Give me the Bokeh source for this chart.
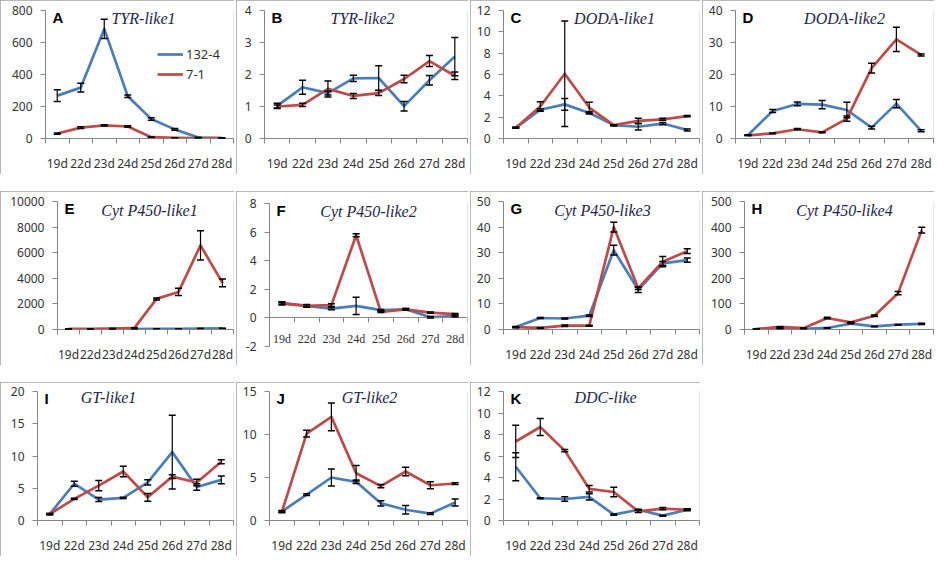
from bokeh.plotting import figure
from bokeh.models import (Range1d, FixedTicker, NumeralTickFormatter, Whisker, TeeHead,
                          ColumnDataSource, Label, LabelSet, Legend, LegendItem, Spacer)
from bokeh.layouts import row, column
from bokeh.embed import file_html
from bokeh.resources import INLINE

# ---------------- data ----------------
days = ["19d", "22d", "23d", "24d", "25d", "26d", "27d", "28d"]
series_names = ["132-4", "7-1"]

tyr1_s1 = [268, 318, 685, 264, 122, 57, 6, 2]
tyr1_s1_err = [36, 28, 60, 8, 8, 6, 2, 1]
tyr1_s2 = [31, 68, 82, 75, 8, 4, 3, 2]
tyr1_s2_err = [4, 5, 4, 5, 2, 1, 1, 1]

tyr2_s1 = [1.02, 1.6, 1.42, 1.88, 1.89, 1.01, 1.82, 2.56]
tyr2_s1_err = [0.08, 0.22, 0.06, 0.1, 0.38, 0.15, 0.15, 0.6]
tyr2_s2 = [1.0, 1.05, 1.55, 1.33, 1.42, 1.86, 2.42, 1.96]
tyr2_s2_err = [0.05, 0.05, 0.25, 0.08, 0.08, 0.12, 0.17, 0.12]

doda1_s1 = [1.0, 2.7, 3.2, 2.4, 1.25, 1.1, 1.4, 0.8]
doda1_s1_err = [0.05, 0.1, 0.55, 0.1, 0.05, 0.3, 0.1, 0.1]
doda1_s2 = [1.0, 3.0, 6.07, 2.9, 1.25, 1.65, 1.8, 2.1]
doda1_s2_err = [0.05, 0.45, 4.95, 0.5, 0.05, 0.25, 0.1, 0.05]

doda2_s1 = [1.0, 8.6, 10.8, 10.6, 8.9, 3.4, 10.9, 2.4]
doda2_s1_err = [0.1, 0.5, 0.6, 1.3, 2.4, 0.4, 1.3, 0.3]
doda2_s2 = [1.0, 1.6, 2.9, 1.9, 6.2, 22.0, 31.0, 26.1]
doda2_s2_err = [0.1, 0.1, 0.2, 0.1, 0.8, 1.5, 3.8, 0.3]

cyp1_s1 = [15, 20, 25, 40, 50, 60, 80, 90]
cyp1_s1_err = [5, 5, 5, 5, 5, 5, 5, 5]
cyp1_s2 = [50, 55, 80, 130, 2390, 2935, 6570, 3640]
cyp1_s2_err = [5, 5, 5, 10, 80, 280, 1150, 300]

cyp2_s1 = [1.05, 0.84, 0.65, 0.84, 0.54, 0.6, 0.05, 0.12]
cyp2_s1_err = [0.08, 0.08, 0.08, 0.6, 0.05, 0.05, 0.05, 0.05]
cyp2_s2 = [1.0, 0.84, 0.89, 5.78, 0.42, 0.6, 0.37, 0.26]
cyp2_s2_err = [0.1, 0.1, 0.1, 0.1, 0.05, 0.05, 0.05, 0.05]

cyp3_s1 = [1.0, 4.5, 4.3, 5.4, 31.0, 15.5, 25.8, 27.1]
cyp3_s1_err = [0.2, 0.2, 0.2, 0.3, 1.9, 1.0, 0.8, 0.8]
cyp3_s2 = [0.9, 0.6, 1.5, 1.5, 40.0, 16.1, 26.5, 30.6]
cyp3_s2_err = [0.2, 0.2, 0.3, 0.2, 1.9, 0.5, 2.0, 0.9]

cyp4_s1 = [2, 3, 3, 6, 23, 12, 19, 22]
cyp4_s1_err = [1, 1, 1, 1, 1, 1, 1, 2]
cyp4_s2 = [2, 10, 5, 45, 28, 54, 142, 388]
cyp4_s2_err = [1, 1, 1, 3, 1, 3, 6, 11]

gt1_s1 = [1.0, 5.7, 3.25, 3.5, 5.9, 10.6, 5.2, 6.3]
gt1_s1_err = [0.1, 0.4, 0.3, 0.1, 0.4, 5.7, 0.5, 0.6]
gt1_s2 = [1.0, 3.35, 5.4, 7.6, 3.6, 6.8, 5.9, 9.1]
gt1_s2_err = [0.1, 0.1, 0.8, 0.8, 0.6, 0.3, 0.5, 0.3]

gt2_s1 = [1.05, 3.0, 5.0, 4.5, 2.0, 1.25, 0.8, 2.1]
gt2_s1_err = [0.1, 0.1, 1.0, 0.2, 0.3, 0.5, 0.1, 0.4]
gt2_s2 = [1.0, 10.1, 12.05, 5.5, 4.0, 5.7, 4.1, 4.3]
gt2_s2_err = [0.1, 0.4, 1.6, 0.9, 0.2, 0.5, 0.4, 0.1]

ddc_s1 = [5.0, 2.07, 2.0, 2.2, 0.55, 1.0, 0.45, 1.0]
ddc_s1_err = [1.3, 0.05, 0.2, 0.3, 0.05, 0.05, 0.05, 0.05]
ddc_s2 = [7.35, 8.7, 6.5, 2.95, 2.65, 0.85, 1.1, 1.0]
ddc_s2_err = [1.5, 0.8, 0.1, 0.3, 0.45, 0.1, 0.1, 0.1]

# ---------------- styling ----------------
BLUE = "#4a7ebb"
RED = "#be4b48"
AXIS = "#868686"
TXT = "#333333"
TITLE_C = "#1e2548"
SANS = "Noto Sans"

H = 174
COL_W = [234, 232, 230, 232]


def make_panel(letter, title, s1, e1, s2, e2, ymin, ymax, step,
               width, left, title_dx, title_dy=-8, legend=False, zero_axis=False,
               top=10, bottom=36):
    xs = list(range(1, len(days) + 1))
    p = figure(width=width, height=H, output_backend="svg", toolbar_location=None,
               x_range=Range1d(0.5, len(days) + 0.5), y_range=Range1d(ymin, ymax),
               min_border_left=left, min_border_right=1,
               min_border_top=top, min_border_bottom=bottom)
    p.xgrid.visible = False
    p.ygrid.visible = False
    p.outline_line_color = None
    p.background_fill_color = "white"
    p.border_fill_color = "white"
    p.styles = {"outline": "1px solid #a0a0a0", "outline-offset": "-1px"}

    # x axis (categories, ticks between categories)
    boundaries = [x - 0.5 for x in xs] + [xs[-1] + 0.5]
    xa = p.xaxis[0]
    xa.major_tick_out = 0
    xa.major_tick_in = 0
    xa.minor_tick_out = 5
    xa.minor_tick_in = 0
    xa.minor_tick_line_color = AXIS
    xa.axis_line_color = AXIS
    xa.major_label_text_font = SANS
    xa.major_label_text_font_size = "12px"
    xa.major_label_text_color = TXT
    xa.major_label_standoff = 11
    if zero_axis:
        # axis line crosses at y = 0; category labels drawn just below it
        xa.ticker = FixedTicker(ticks=[], minor_ticks=boundaries)
        xa.fixed_location = 0
        xa.major_label_standoff = 0
        lsrc = ColumnDataSource(dict(x=xs, y=[0] * len(xs), text=days))
        p.add_layout(LabelSet(source=lsrc, x="x", y="y", text="text", y_offset=-14,
                              text_align="center", text_baseline="top",
                              text_font=SANS, text_font_size="12px", text_color=TXT))
    else:
        xa.ticker = FixedTicker(ticks=xs, minor_ticks=boundaries)
        xa.major_label_overrides = {x: d for x, d in zip(xs, days)}

    ya = p.yaxis[0]
    ya.ticker = FixedTicker(ticks=list(range(ymin, ymax + step, step)), minor_ticks=[])
    ya.formatter = NumeralTickFormatter(format="0")
    ya.major_tick_out = 5
    ya.major_tick_in = 0
    ya.major_tick_line_color = AXIS
    ya.axis_line_color = AXIS
    ya.minor_tick_line_color = None
    ya.major_label_text_font = SANS
    ya.major_label_text_font_size = "12px"
    ya.major_label_text_color = TXT
    ya.major_label_standoff = 8

    r1 = p.line(xs, s1, line_color=BLUE, line_width=2.7, line_join="round")
    r2 = p.line(xs, s2, line_color=RED, line_width=2.7, line_join="round")

    for vals, errs in ((s1, e1), (s2, e2)):
        src = ColumnDataSource(dict(x=xs,
                                    upper=[v + e for v, e in zip(vals, errs)],
                                    lower=[v - e for v, e in zip(vals, errs)]))
        w = Whisker(source=src, base="x", upper="upper", lower="lower",
                    line_color="black", line_width=1.2, level="overlay",
                    upper_head=TeeHead(size=7, line_color="black", line_width=1.5),
                    lower_head=TeeHead(size=7, line_color="black", line_width=1.5))
        p.add_layout(w)

    p.add_layout(Label(x=0.5, y=ymax, x_offset=7, y_offset=-7, text=letter,
                       text_font="Liberation Sans", text_font_style="bold",
                       text_font_size="15px", text_color="black",
                       text_baseline="middle", text_align="left"))
    p.add_layout(Label(x=0.5, y=ymax, x_offset=title_dx, y_offset=title_dy, text=title,
                       text_font="Liberation Serif", text_font_style="italic",
                       text_font_size="16px", text_color=TITLE_C,
                       text_baseline="middle", text_align="center"))

    if legend:
        leg = Legend(items=[LegendItem(label=series_names[0], renderers=[r1]),
                            LegendItem(label=series_names[1], renderers=[r2])],
                     location=(112, 54), border_line_color=None,
                     background_fill_alpha=0, padding=0, spacing=0,
                     label_height=20, glyph_height=20, glyph_width=26,
                     label_standoff=3, label_text_font=SANS,
                     label_text_font_size="13px", label_text_color=TXT)
        p.add_layout(leg)
    return p


w1, w2, w3, w4 = COL_W
pA = make_panel("A", "TYR-like1", tyr1_s1, tyr1_s1_err, tyr1_s2, tyr1_s2_err, 0, 800, 200, w1, 45, 98, legend=True)
pB = make_panel("B", "TYR-like2", tyr2_s1, tyr2_s1_err, tyr2_s2, tyr2_s2_err, 0, 4, 1, w2, 28, 98)
pC = make_panel("C", "DODA-like1", doda1_s1, doda1_s1_err, doda1_s2, doda1_s2_err, 0, 12, 2, w3, 33, 111)
pD = make_panel("D", "DODA-like2", doda2_s1, doda2_s1_err, doda2_s2, doda2_s2_err, 0, 40, 10, w4, 33, 109)

pE = make_panel("E", "Cyt P450-like1", cyp1_s1, cyp1_s1_err, cyp1_s2, cyp1_s2_err, 0, 10000, 2000, w1, 57, 92, title_dy=-9)
pF = make_panel("F", "Cyt P450-like2", cyp2_s1, cyp2_s1_err, cyp2_s2, cyp2_s2_err, -2, 8, 2, w2, 33, 99,
                zero_axis=True, top=12, bottom=19)
pG = make_panel("G", "Cyt P450-like3", cyp3_s1, cyp3_s1_err, cyp3_s2, cyp3_s2_err, 0, 50, 10, w3, 33, 99, title_dy=-9)
pH = make_panel("H", "Cyt P450-like4", cyp4_s1, cyp4_s1_err, cyp4_s2, cyp4_s2_err, 0, 500, 100, w4, 42, 100, title_dy=-9)

pI = make_panel("I", "GT-like1", gt1_s1, gt1_s1_err, gt1_s2, gt1_s2_err, 0, 20, 5, w1, 37, 71, title_dy=-6, top=9)
pJ = make_panel("J", "GT-like2", gt2_s1, gt2_s1_err, gt2_s2, gt2_s2_err, 0, 15, 5, w2, 33, 100, title_dy=-6, top=9)
pK = make_panel("K", "DDC-like", ddc_s1, ddc_s1_err, ddc_s2, ddc_s2_err, 0, 12, 2, w3, 33, 102, title_dy=-6, top=9)

layout = column(
    row(pA, pB, pC, pD, spacing=2),
    Spacer(height=17),
    row(pE, column(pF), pG, pH, spacing=2),
    Spacer(height=17),
    row(pI, pJ, pK, spacing=2),
)

open("out.html", "w").write(file_html(layout, INLINE))
